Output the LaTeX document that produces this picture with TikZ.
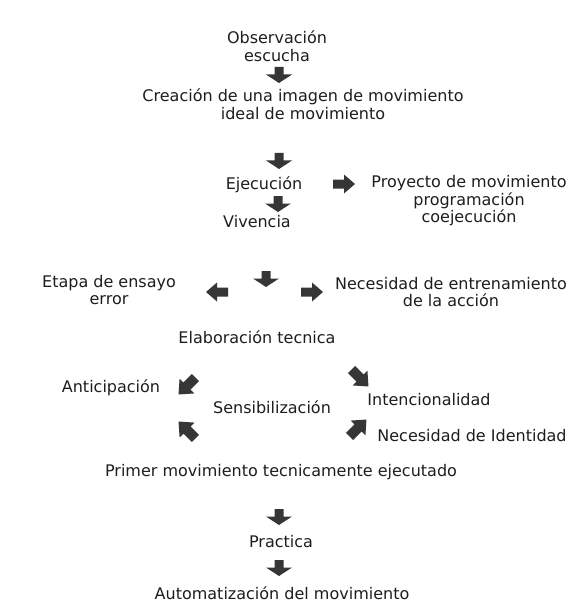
\documentclass[tikz,border=0pt]{standalone}
\usepackage{fontspec}
\setmainfont{DejaVu Sans}
\definecolor{txtc}{HTML}{1E1E1E}
\definecolor{arrc}{HTML}{363636}
\tikzset{
  lbl/.style={text=txtc, align=center, inner sep=0pt,
    font=\fontsize{16}{17.5}\selectfont},
  pics/blk/.style n args={4}{code={
    \fill[arrc] (-#1,-#3/2) -- (#1,-#3/2) -- (#1,#3/2-#4) -- (#2,#3/2-#4)
      -- (0,#3/2) -- (-#2,#3/2-#4) -- (-#1,#3/2-#4) -- cycle;}}
}
\begin{document}
\begin{tikzpicture}[x=1pt,y=-1pt]
\useasboundingbox (0,0) rectangle (574,604);
\fill[white] (0,0) rectangle (574,604);

\node[lbl] (obs) at (277,46) {Observación\\escucha};
\node[lbl] (cre) at (303,104) {Creación de una imagen de movimiento\\ideal de movimiento};
\node[lbl] (eje) at (264,185) {Ejecución};
\node[lbl] (pro) at (469,201) {Proyecto de movimiento\\programación\\coejecución};
\node[lbl] (viv) at (257,222) {Vivencia};
\node[lbl] (eta) at (109,290) {Etapa de ensayo\\error};
\node[lbl] (nec) at (451,292) {Necesidad de entrenamiento\\de la acción};
\node[lbl] (ela) at (257,337) {Elaboración tecnica};
\node[lbl] (ant) at (111,388) {Anticipación};
\node[lbl] (sen) at (272,407) {Sensibilización};
\node[lbl] (int) at (429,400) {Intencionalidad};
\node[lbl] (ide) at (472,436) {Necesidad de Identidad};
\node[lbl] (pri) at (281,472) {Primer movimiento tecnicamente ejecutado};
\node[lbl] (pra) at (281,542) {Practica};
\node[lbl] (aut) at (282,593) {Automatización del movimiento};

\pic at (279,75) {blk={4.5}{13}{16}{8.5}};
\pic at (279,161) {blk={4.5}{13}{16}{8.5}};
\pic[rotate=90] at (344,184) {blk={4.5}{9.5}{22}{11}};
\pic at (278,204) {blk={4.5}{13}{16}{8.5}};
\pic at (266,279) {blk={4.5}{13}{16}{8.5}};
\pic[rotate=-90] at (217,292) {blk={4.5}{9.5}{22}{11}};
\pic[rotate=90] at (312,292) {blk={4.5}{9.5}{22}{11}};
\pic[rotate=-45] at (187,386) {blk={5}{10.5}{24}{12}};
\pic[rotate=45] at (360,378) {blk={5}{10.5}{24}{12}};
\pic[rotate=-135] at (187,430) {blk={5}{10.5}{24}{12}};
\pic[rotate=135] at (358,428) {blk={5}{10.5}{24}{12}};
\pic at (279,517) {blk={4.5}{13}{16}{8.5}};
\pic at (279,568) {blk={4.5}{13}{16}{8.5}};
\end{tikzpicture}
\end{document}
